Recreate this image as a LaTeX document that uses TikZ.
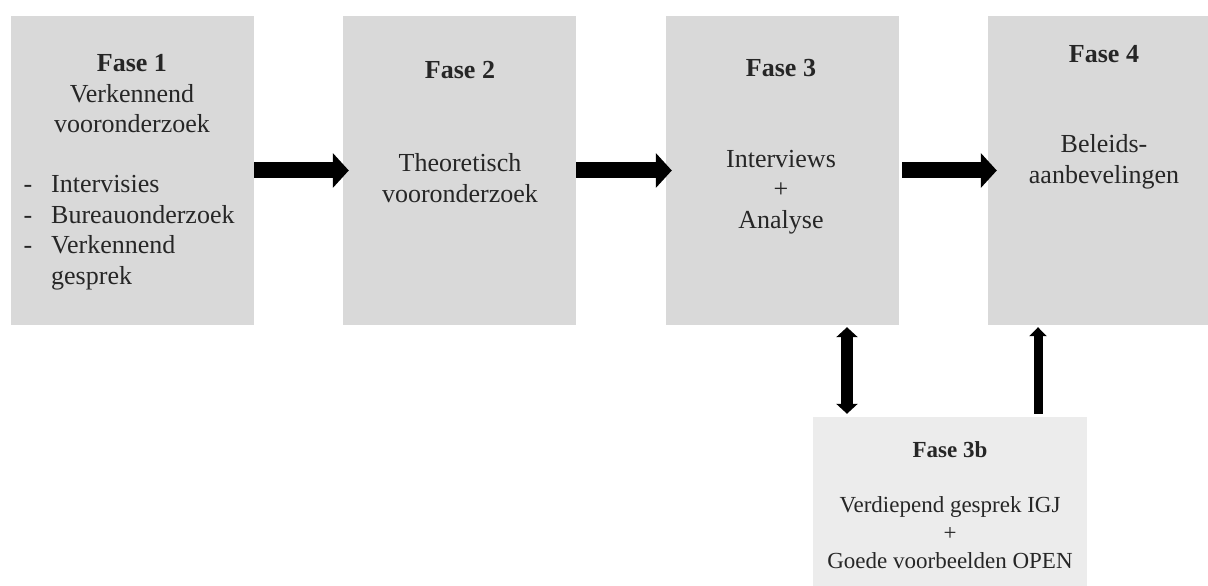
\documentclass[tikz,border=0pt]{standalone}
\usepackage{fontspec}
\setmainfont{Liberation Serif}
\usetikzlibrary{arrows.meta}

\definecolor{vakgrijs}{RGB}{217,217,217}
\definecolor{vaklicht}{RGB}{236,236,236}
\definecolor{tekstgrijs}{RGB}{38,38,38}

\tikzset{
    fasevak/.style={fill=vakgrijs, inner sep=0pt, minimum height=309pt},
    fasetekst/.style={align=center, text=tekstgrijs, font=\fontsize{26}{30.5}\selectfont},
    kleintekst/.style={align=center, text=tekstgrijs, font=\fontsize{23}{28}\selectfont},
    pijl/.style={line width=16pt, -{Triangle[width=34pt,length=16pt]}, shorten >=-6pt},
}

\begin{document}
\begin{tikzpicture}[x=1pt, y=1pt]
    \useasboundingbox (0, 0) rectangle (1208, 586);

    % Phase boxes
    \node[fasevak, minimum width=243pt] (f1) at (132.5, 415.5) {};
    \node[fasevak, minimum width=233pt] (f2) at (459.5, 415.5) {};
    \node[fasevak, minimum width=233pt] (f3) at (782.5, 415.5) {};
    \node[fasevak, minimum width=232pt] (f4) at (1104, 415.5) {};
    \node[fill=vaklicht, inner sep=0pt, minimum width=274pt, minimum height=175pt] (f3b) at (950, 81.5) {};

    % Fase 1
    \node[fasetekst] (t1) at (132, 492) {\textbf{Fase 1}\\Verkennend\\vooronderzoek};
    \node[fasetekst, anchor=west] (l1) at (20, 353.5) {%
        \begin{tabular}{@{}l@{\hspace{19pt}}l@{}}
            - & Intervisies\\
            - & Bureauonderzoek\\
            - & Verkennend\\
              & gesprek
        \end{tabular}};

    % Fase 2
    \node[fasetekst] (t2) at (460, 516) {\textbf{Fase 2}};
    \node[fasetekst] (b2) at (460, 408) {Theoretisch\\vooronderzoek};

    % Fase 3
    \node[fasetekst] (t3) at (781, 518) {\textbf{Fase 3}};
    \node[fasetekst] (b3) at (781, 394) {Interviews\\+\\Analyse};

    % Fase 4
    \node[fasetekst] (t4) at (1104, 532) {\textbf{Fase 4}};
    \node[fasetekst] (b4) at (1104, 424) {Beleids-\\aanbevelingen};

    % Fase 3b
    \node[kleintekst] (t3b) at (950, 136) {\textbf{Fase 3b}};
    \node[kleintekst] (b3b) at (950, 53) {Verdiepend gesprek IGJ\\+\\Goede voorbeelden OPEN};

    % Arrows between the phases
    \draw[pijl] (f1.east) -- (f2.west);
    \draw[pijl] (f2.east) -- (f3.west);
    \draw[pijl, shorten <=3pt, shorten >=-9pt] (f3.east) -- (f4.west);

    \coordinate (xdubbel) at (847, 0);
    \coordinate (xop) at (1038, 0);
    \draw[line width=12pt, {Triangle[width=21pt,length=10pt]}-{Triangle[width=21pt,length=10pt]}, shorten <=3pt, shorten >=2pt]
        (f3b.north -| xdubbel) -- (f3.south -| xdubbel);
    \draw[line width=9pt, -{Triangle[width=17pt,length=9pt]}, shorten <=3pt, shorten >=2pt]
        (f3b.north -| xop) -- (f4.south -| xop);

\end{tikzpicture}
\end{document}
